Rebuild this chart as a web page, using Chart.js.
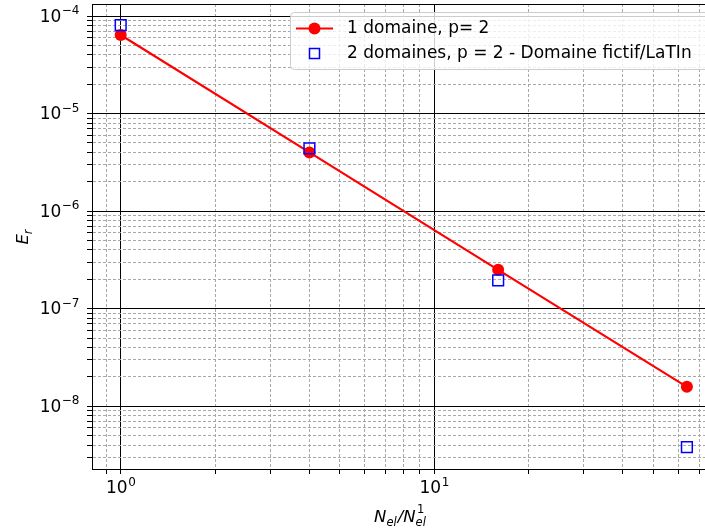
<!DOCTYPE html>
<html>
<head>
<meta charset="utf-8">
<script src="https://cdn.jsdelivr.net/npm/chart.js@4"></script>
<style>
  html, body { margin: 0; padding: 0; background: #fff; overflow: hidden; }
  #wrap { width: 705px; height: 531px; }
  canvas { display: block; }
</style>
</head>
<body>
<div id="wrap"><canvas id="errChart" width="705" height="531"></canvas></div>
<script>
const ratios = [1, 4, 16, 64];
const errOneDomain = [6.4e-5, 4.0e-6, 2.5e-7, 1.58e-8];
const errTwoDomains = [8.1e-5, 4.4e-6, 1.95e-7, 3.8e-9];
const seriesLabels = ["1 domaine, p= 2", "2 domaines, p = 2 - Domaine fictif/LaTIn"];
const xRange = [0.81, 73.1];
const yRange = [2.27e-9, 1.33e-4];

const FONT = "'DejaVu Sans', sans-serif";

function isDecade(v) {
  const l = Math.log10(v);
  return Math.abs(l - Math.round(l)) < 1e-9;
}

function logTicks(min, max) {
  const out = [];
  for (let n = Math.floor(Math.log10(min)); n <= Math.ceil(Math.log10(max)); n++) {
    for (let k = 1; k <= 9; k++) {
      const v = parseFloat((k * Math.pow(10, n)).toPrecision(6));
      if (v >= min && v <= max) out.push({ value: v, major: k === 1 });
    }
  }
  return out;
}

function toPoints(xs, ys) {
  return xs.map((x, i) => ({ x, y: ys[i] }));
}

const gridColor = (ctx) => (ctx.tick && isDecade(ctx.tick.value) ? "#000" : "#a8a8a8");
const gridDash = (ctx) => (ctx.tick && !isDecade(ctx.tick.value) ? [3, 2] : []);

// "10" with a raised exponent, like matplotlib's log labels
function drawPow10(ctx, exp, x, y, align) {
  const e = String(exp).replace("-", "\u2212");
  ctx.font = "17px " + FONT;
  const wBase = ctx.measureText("10").width;
  ctx.font = "12px " + FONT;
  const wExp = ctx.measureText(e).width;
  const w = wBase + wExp;
  const left = align === "right" ? x - w : x - w / 2;
  ctx.textAlign = "left";
  ctx.textBaseline = "middle";
  ctx.font = "17px " + FONT;
  ctx.fillText("10", left, y);
  ctx.font = "12px " + FONT;
  ctx.fillText(e, left + wBase + 0.5, y - 6);
}

// draws text parts with sub/superscripts, centred on cx
function drawMath(ctx, parts, cx, cy) {
  const big = "italic 16.5px " + FONT;
  const small = "italic 11.5px " + FONT;
  let w = 0;
  parts.forEach((p) => {
    ctx.font = p.sub ? small : big;
    p.w = ctx.measureText(p.t).width + (p.sub ? 1 : 0);
    w += p.w;
  });
  let x = cx - w / 2;
  ctx.textBaseline = "alphabetic";
  ctx.textAlign = "left";
  parts.forEach((p) => {
    ctx.font = p.sub ? small : big;
    ctx.fillText(p.t, x, cy + (p.sub ? 4 : 0));
    if (p.sup) {
      ctx.font = "11.5px " + FONT;
      ctx.fillText(p.sup, x + 1.5, cy - 9);
    }
    x += p.w;
  });
}

const framePlugin = {
  id: "frame",
  afterDraw(chart) {
    const { ctx, chartArea, scales } = chart;
    ctx.save();
    ctx.strokeStyle = "#000";
    ctx.lineWidth = 1;
    ctx.strokeRect(Math.round(chartArea.left) + 0.5, Math.round(chartArea.top) + 0.5,
      chartArea.right - chartArea.left, chartArea.bottom - chartArea.top);

    // tick labels
    ctx.fillStyle = "#000";
    scales.x.ticks.filter((t) => isDecade(t.value)).forEach((t) => {
      drawPow10(ctx, Math.round(Math.log10(t.value)), scales.x.getPixelForValue(t.value), chartArea.bottom + 20, "center");
    });
    scales.y.ticks.filter((t) => isDecade(t.value)).forEach((t) => {
      drawPow10(ctx, Math.round(Math.log10(t.value)), chartArea.left - 13, scales.y.getPixelForValue(t.value) + 1, "right");
    });

    // legend box
    ctx.fillStyle = "rgba(255,255,255,0.8)";
    ctx.strokeStyle = "#cccccc";
    ctx.beginPath();
    ctx.roundRect(290.5, 12.5, 430, 57, 4);
    ctx.fill();
    ctx.stroke();

    const ds = chart.data.datasets;
    ctx.font = "17px " + FONT;
    ctx.textAlign = "left";
    ctx.textBaseline = "middle";
    ctx.fillStyle = "#000";
    ctx.fillText(ds[0].label, 347, 29);
    ctx.fillText(ds[1].label, 347, 54);

    ctx.strokeStyle = ds[0].borderColor;
    ctx.lineWidth = 2;
    ctx.beginPath();
    ctx.moveTo(296, 28.5);
    ctx.lineTo(333, 28.5);
    ctx.stroke();
    ctx.fillStyle = ds[0].pointBackgroundColor;
    ctx.beginPath();
    ctx.arc(314.5, 28.5, 6, 0, Math.PI * 2);
    ctx.fill();

    ctx.strokeStyle = ds[1].borderColor;
    ctx.lineWidth = 1.5;
    ctx.strokeRect(309.5, 48.5, 10, 10);

    // axis titles
    ctx.fillStyle = "#000";
    const cx = (chartArea.left + chartArea.right) / 2 + 2;
    drawMath(ctx, [{ t: "N" }, { t: "el", sub: true }, { t: "/" }, { t: "N" }, { t: "el", sub: true, sup: "1" }], cx, 522);
    ctx.save();
    ctx.translate(28, (chartArea.top + chartArea.bottom) / 2);
    ctx.rotate(-Math.PI / 2);
    drawMath(ctx, [{ t: "E" }, { t: "r", sub: true }], 0, 0);
    ctx.restore();
    ctx.restore();
  },
};

new Chart(document.getElementById("errChart"), {
  type: "line",
  data: {
    datasets: [
      {
        label: seriesLabels[0],
        data: toPoints(ratios, errOneDomain),
        borderColor: "#ff0000",
        borderWidth: 2.2,
        pointRadius: 6,
        pointBackgroundColor: "#ff0000",
        pointBorderWidth: 0,
        order: 1,
      },
      {
        label: seriesLabels[1],
        data: toPoints(ratios, errTwoDomains),
        showLine: false,
        borderColor: "#0000ff",
        backgroundColor: "rgba(0,0,0,0)",
        pointStyle: "rect",
        pointRadius: 7.6,
        pointBorderWidth: 1.5,
        pointBackgroundColor: "rgba(0,0,0,0)",
        order: 0,
      },
    ],
  },
  options: {
    responsive: false,
    animation: false,
    layout: { autoPadding: false, padding: { top: 4, right: 0, left: 0, bottom: 0 } },
    plugins: { legend: { display: false }, tooltip: { enabled: false } },
    scales: {
      x: {
        type: "logarithmic",
        min: xRange[0],
        max: xRange[1],
        afterBuildTicks: (scale) => { scale.ticks = logTicks(xRange[0], xRange[1]); },
        afterFit: (scale) => { scale.height = 62; scale.paddingLeft = 0; scale.paddingRight = 0; },
        ticks: { display: false, autoSkip: false },
        grid: { color: gridColor, lineWidth: 1, tickColor: "#000", tickLength: 5 },
        border: { color: "#000", width: 1, dash: gridDash },
      },
      y: {
        type: "logarithmic",
        min: yRange[0],
        max: yRange[1],
        afterBuildTicks: (scale) => { scale.ticks = logTicks(yRange[0], yRange[1]); },
        afterFit: (scale) => { scale.width = 92; scale.paddingTop = 0; scale.paddingBottom = 0; },
        ticks: { display: false, autoSkip: false },
        grid: { color: gridColor, lineWidth: 1, tickColor: "#000", tickLength: 5 },
        border: { color: "#000", width: 1, dash: gridDash },
      },
    },
  },
  plugins: [framePlugin],
});
</script>
</body>
</html>
